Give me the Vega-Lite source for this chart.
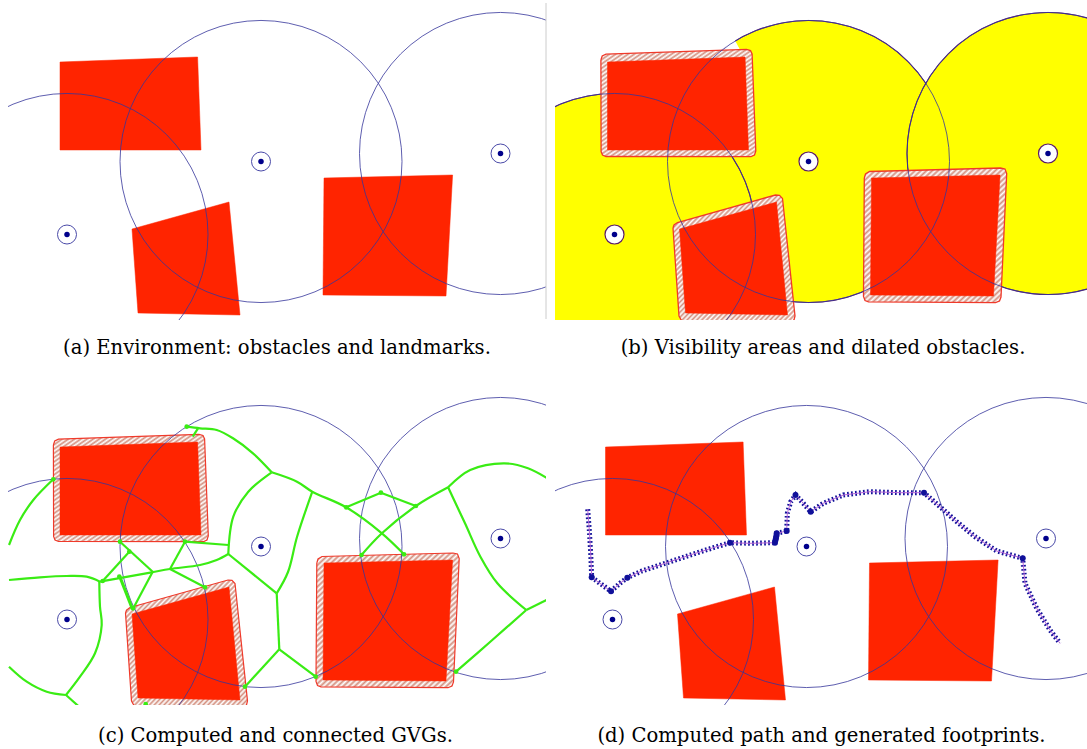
{"$schema":"https://vega.github.io/schema/vega-lite/v6.json","padding":{"left":8,"top":0,"right":0,"bottom":0},"background":"white",
"config":{"view":{"stroke":null},"style":{"cap":{"font":"DejaVu Serif","fontSize":19.6,"fill":"#333333","align":"center","baseline":"middle"},"hatch":{"fill":{"gradient":"linear","x1":0,"y1":0,"x2":1,"y2":1,"stops":[{"offset":0,"color":"#fff"},{"offset":0.01,"color":"#d4907f"},{"offset":0.02,"color":"#fff"},{"offset":0.03,"color":"#d4907f"},{"offset":0.04,"color":"#fff"},{"offset":0.05,"color":"#d4907f"},{"offset":0.06,"color":"#fff"},{"offset":0.07,"color":"#d4907f"},{"offset":0.08,"color":"#fff"},{"offset":0.09,"color":"#d4907f"},{"offset":0.1,"color":"#fff"},{"offset":0.11,"color":"#d4907f"},{"offset":0.12,"color":"#fff"},{"offset":0.13,"color":"#d4907f"},{"offset":0.14,"color":"#fff"},{"offset":0.15,"color":"#d4907f"},{"offset":0.16,"color":"#fff"},{"offset":0.17,"color":"#d4907f"},{"offset":0.18,"color":"#fff"},{"offset":0.19,"color":"#d4907f"},{"offset":0.2,"color":"#fff"},{"offset":0.21,"color":"#d4907f"},{"offset":0.22,"color":"#fff"},{"offset":0.23,"color":"#d4907f"},{"offset":0.24,"color":"#fff"},{"offset":0.25,"color":"#d4907f"},{"offset":0.26,"color":"#fff"},{"offset":0.27,"color":"#d4907f"},{"offset":0.28,"color":"#fff"},{"offset":0.29,"color":"#d4907f"},{"offset":0.3,"color":"#fff"},{"offset":0.31,"color":"#d4907f"},{"offset":0.32,"color":"#fff"},{"offset":0.33,"color":"#d4907f"},{"offset":0.34,"color":"#fff"},{"offset":0.35,"color":"#d4907f"},{"offset":0.36,"color":"#fff"},{"offset":0.37,"color":"#d4907f"},{"offset":0.38,"color":"#fff"},{"offset":0.39,"color":"#d4907f"},{"offset":0.4,"color":"#fff"},{"offset":0.41,"color":"#d4907f"},{"offset":0.42,"color":"#fff"},{"offset":0.43,"color":"#d4907f"},{"offset":0.44,"color":"#fff"},{"offset":0.45,"color":"#d4907f"},{"offset":0.46,"color":"#fff"},{"offset":0.47,"color":"#d4907f"},{"offset":0.48,"color":"#fff"},{"offset":0.49,"color":"#d4907f"},{"offset":0.5,"color":"#fff"},{"offset":0.51,"color":"#d4907f"},{"offset":0.52,"color":"#fff"},{"offset":0.53,"color":"#d4907f"},{"offset":0.54,"color":"#fff"},{"offset":0.55,"color":"#d4907f"},{"offset":0.56,"color":"#fff"},{"offset":0.57,"color":"#d4907f"},{"offset":0.58,"color":"#fff"},{"offset":0.59,"color":"#d4907f"},{"offset":0.6,"color":"#fff"},{"offset":0.61,"color":"#d4907f"},{"offset":0.62,"color":"#fff"},{"offset":0.63,"color":"#d4907f"},{"offset":0.64,"color":"#fff"},{"offset":0.65,"color":"#d4907f"},{"offset":0.66,"color":"#fff"},{"offset":0.67,"color":"#d4907f"},{"offset":0.68,"color":"#fff"},{"offset":0.69,"color":"#d4907f"},{"offset":0.7,"color":"#fff"},{"offset":0.71,"color":"#d4907f"},{"offset":0.72,"color":"#fff"},{"offset":0.73,"color":"#d4907f"},{"offset":0.74,"color":"#fff"},{"offset":0.75,"color":"#d4907f"},{"offset":0.76,"color":"#fff"},{"offset":0.77,"color":"#d4907f"},{"offset":0.78,"color":"#fff"},{"offset":0.79,"color":"#d4907f"},{"offset":0.8,"color":"#fff"},{"offset":0.81,"color":"#d4907f"},{"offset":0.82,"color":"#fff"},{"offset":0.83,"color":"#d4907f"},{"offset":0.84,"color":"#fff"},{"offset":0.85,"color":"#d4907f"},{"offset":0.86,"color":"#fff"},{"offset":0.87,"color":"#d4907f"},{"offset":0.88,"color":"#fff"},{"offset":0.89,"color":"#d4907f"},{"offset":0.9,"color":"#fff"},{"offset":0.91,"color":"#d4907f"},{"offset":0.92,"color":"#fff"},{"offset":0.93,"color":"#d4907f"},{"offset":0.94,"color":"#fff"},{"offset":0.95,"color":"#d4907f"},{"offset":0.96,"color":"#fff"},{"offset":0.97,"color":"#d4907f"},{"offset":0.98,"color":"#fff"},{"offset":0.99,"color":"#d4907f"},{"offset":1,"color":"#fff"}]}}}},
"datasets":{
"obst":[{"id":"A1","i":0,"x":60,"y":62},{"id":"A1","i":1,"x":197.6,"y":57},{"id":"A1","i":2,"x":201,"y":150},{"id":"A1","i":3,"x":60,"y":150},{"id":"A1","i":4,"x":60,"y":62},
{"id":"A2","i":0,"x":132,"y":229},{"id":"A2","i":1,"x":229,"y":202},{"id":"A2","i":2,"x":240,"y":315},{"id":"A2","i":3,"x":138,"y":313},{"id":"A2","i":4,"x":132,"y":229},
{"id":"A3","i":0,"x":324,"y":178},{"id":"A3","i":1,"x":452.6,"y":175},{"id":"A3","i":2,"x":446,"y":296},{"id":"A3","i":3,"x":323,"y":295},{"id":"A3","i":4,"x":324,"y":178}],
"dil":[{"id":"D1","i":0,"x":53.4,"y":60},{"id":"D1","i":1,"x":54.7,"y":56},{"id":"D1","i":2,"x":58.5,"y":54.2},{"id":"D1","i":3,"x":199,"y":49.4},{"id":"D1","i":4,"x":203,"y":50.5},{"id":"D1","i":5,"x":204.6,"y":54},{"id":"D1","i":6,"x":208.3,"y":151},{"id":"D1","i":7,"x":207,"y":155},{"id":"D1","i":8,"x":203.5,"y":156.7},{"id":"D1","i":9,"x":58.5,"y":156.5},{"id":"D1","i":10,"x":55,"y":155},{"id":"D1","i":11,"x":53.6,"y":151.5},{"id":"D1","i":12,"x":53.4,"y":60},
{"id":"D2","i":0,"x":125.5,"y":228},{"id":"D2","i":1,"x":126.5,"y":225},{"id":"D2","i":2,"x":130,"y":222.5},{"id":"D2","i":3,"x":228,"y":195},{"id":"D2","i":4,"x":232,"y":195.3},{"id":"D2","i":5,"x":235,"y":198.5},{"id":"D2","i":6,"x":247.5,"y":316},{"id":"D2","i":7,"x":246.5,"y":320},{"id":"D2","i":8,"x":243,"y":322},{"id":"D2","i":9,"x":139,"y":322},{"id":"D2","i":10,"x":134,"y":320.5},{"id":"D2","i":11,"x":131.5,"y":316},{"id":"D2","i":12,"x":125.5,"y":228},
{"id":"D3","i":0,"x":316.8,"y":178},{"id":"D3","i":1,"x":318,"y":174},{"id":"D3","i":2,"x":322,"y":171.5},{"id":"D3","i":3,"x":453,"y":168},{"id":"D3","i":4,"x":457.5,"y":169},{"id":"D3","i":5,"x":459.2,"y":173.5},{"id":"D3","i":6,"x":453.5,"y":297},{"id":"D3","i":7,"x":452,"y":301},{"id":"D3","i":8,"x":448,"y":302.7},{"id":"D3","i":9,"x":321,"y":301.8},{"id":"D3","i":10,"x":317.5,"y":300.5},{"id":"D3","i":11,"x":316,"y":296.5},{"id":"D3","i":12,"x":316.8,"y":178}],
"lm":[{"x":261,"y":161.5},{"x":500.5,"y":153.5},{"x":67,"y":234.5}],
"shadow":[{"id":"W","i":0,"x":193,"y":52},{"id":"W","i":1,"x":186.6,"y":40},{"id":"W","i":2,"x":180,"y":45.6},{"id":"W","i":3,"x":170,"y":54},{"id":"W","i":4,"x":193,"y":52}],
"frame":[{"id":"r","i":0,"x":546,"y":3},{"id":"r","i":1,"x":546,"y":319}],
"green":[{"id":"g1","i":0,"x":9,"y":160},{"id":"g1","i":1,"x":20,"y":135},{"id":"g1","i":2,"x":33.3,"y":115},{"id":"g1","i":3,"x":53.3,"y":94.3},
{"id":"g2","i":0,"x":186.7,"y":41.7},{"id":"g2","i":1,"x":200,"y":43.3},{"id":"g2","i":2,"x":216.7,"y":45},{"id":"g2","i":3,"x":233,"y":53.3},{"id":"g2","i":4,"x":253,"y":68.3},{"id":"g2","i":5,"x":271.7,"y":87.3},
{"id":"g2b","i":0,"x":198,"y":43.3},{"id":"g2b","i":1,"x":192.7,"y":51.7},
{"id":"g3","i":0,"x":271.7,"y":87.3},{"id":"g3","i":1,"x":297,"y":96.7},{"id":"g3","i":2,"x":312.3,"y":106.7},{"id":"g3","i":3,"x":346.2,"y":122.3},{"id":"g3","i":4,"x":381.9,"y":148.3},{"id":"g3","i":5,"x":404,"y":169.3},
{"id":"g4","i":0,"x":276.7,"y":208.3},{"id":"g4","i":1,"x":288,"y":187},{"id":"g4","i":2,"x":297,"y":152},{"id":"g4","i":3,"x":312.3,"y":106.7},
{"id":"g5","i":0,"x":271.7,"y":87.3},{"id":"g5","i":1,"x":248.3,"y":106.7},{"id":"g5","i":2,"x":233.3,"y":131.7},{"id":"g5","i":3,"x":228.3,"y":169},
{"id":"g6","i":0,"x":228.3,"y":169},{"id":"g6","i":1,"x":276.7,"y":208.3},
{"id":"g7","i":0,"x":276.7,"y":208.3},{"id":"g7","i":1,"x":279.3,"y":264.3},
{"id":"g8","i":0,"x":279.3,"y":264.3},{"id":"g8","i":1,"x":245,"y":301.7},
{"id":"g9","i":0,"x":279.3,"y":264.3},{"id":"g9","i":1,"x":315.7,"y":291.7},
{"id":"g10","i":0,"x":185,"y":156.7},{"id":"g10","i":1,"x":228.3,"y":160},
{"id":"g11","i":0,"x":9,"y":195},{"id":"g11","i":1,"x":40,"y":192.3},{"id":"g11","i":2,"x":66.7,"y":191},{"id":"g11","i":3,"x":86.7,"y":191.7},{"id":"g11","i":4,"x":100,"y":196.7},
{"id":"g11b","i":0,"x":100,"y":196.7},{"id":"g11b","i":1,"x":151.7,"y":187.3},{"id":"g11b","i":2,"x":170,"y":184},{"id":"g11b","i":3,"x":200,"y":180},{"id":"g11b","i":4,"x":216.7,"y":175},{"id":"g11b","i":5,"x":228.3,"y":169},
{"id":"g12","i":0,"x":99.3,"y":196.7},{"id":"g12","i":1,"x":100,"y":221.7},{"id":"g12","i":2,"x":101.7,"y":240},{"id":"g12","i":3,"x":95,"y":268.3},{"id":"g12","i":4,"x":80,"y":291.7},{"id":"g12","i":5,"x":66,"y":310},
{"id":"g13","i":0,"x":9,"y":281.7},{"id":"g13","i":1,"x":26.7,"y":296.7},{"id":"g13","i":2,"x":46.7,"y":306.7},{"id":"g13","i":3,"x":66,"y":310},
{"id":"g13b","i":0,"x":66,"y":310},{"id":"g13b","i":1,"x":78.3,"y":321},
{"id":"g14","i":0,"x":120,"y":156.7},{"id":"g14","i":1,"x":152.7,"y":186.7},
{"id":"g15","i":0,"x":129.3,"y":166.7},{"id":"g15","i":1,"x":102.7,"y":196},
{"id":"g16","i":0,"x":185,"y":156.7},{"id":"g16","i":1,"x":170,"y":184},
{"id":"g17","i":0,"x":170,"y":184},{"id":"g17","i":1,"x":205,"y":202.3},
{"id":"g18","i":0,"x":152.7,"y":186.7},{"id":"g18","i":1,"x":133.3,"y":223.3},
{"id":"g19","i":0,"x":119.3,"y":191.7},{"id":"g19","i":1,"x":131.7,"y":223.3},
{"id":"g19b","i":0,"x":120.3,"y":191.7},{"id":"g19b","i":1,"x":132.7,"y":223.3},
{"id":"g21","i":0,"x":361.5,"y":170},{"id":"g21","i":1,"x":381.9,"y":148.3},{"id":"g21","i":2,"x":415.9,"y":121},{"id":"g21","i":3,"x":448.1,"y":102.3},
{"id":"g22","i":0,"x":346.2,"y":122.3},{"id":"g22","i":1,"x":380.9,"y":107.7},
{"id":"g22b","i":0,"x":380.9,"y":107.7},{"id":"g22b","i":1,"x":415.9,"y":121},
{"id":"g23","i":0,"x":448.1,"y":102.3},{"id":"g23","i":1,"x":470.2,"y":85},{"id":"g23","i":2,"x":504.2,"y":78.3},{"id":"g23","i":3,"x":528,"y":83.3},{"id":"g23","i":4,"x":550,"y":95},
{"id":"g24","i":0,"x":448.1,"y":102.3},{"id":"g24","i":1,"x":465,"y":138.3},{"id":"g24","i":2,"x":480.4,"y":171.7},{"id":"g24","i":3,"x":497.4,"y":198.3},{"id":"g24","i":4,"x":526.3,"y":225},
{"id":"g25","i":0,"x":526.3,"y":225},{"id":"g25","i":1,"x":550,"y":213.3},
{"id":"g26","i":0,"x":526.3,"y":225},{"id":"g26","i":1,"x":492.3,"y":255},{"id":"g26","i":2,"x":456,"y":286.7}],
"nodes":[{"x":186.7,"y":41.7},{"x":53.3,"y":94.3},{"x":120,"y":156.7},{"x":185,"y":156.7},{"x":129.3,"y":166.7},{"x":102.7,"y":196},{"x":119.3,"y":191.7},{"x":133,"y":223.3},{"x":205,"y":202.3},{"x":245,"y":301.7},{"x":315.7,"y":291.7},{"x":361.5,"y":170},{"x":404,"y":169.3},{"x":346.2,"y":122.3},{"x":380.9,"y":107.7},{"x":415.9,"y":121},{"x":456,"y":286.7},{"x":145.7,"y":319}],
"path":[{"i":0,"x":42.2,"y":124.3},{"i":1,"x":43.8,"y":145},{"i":2,"x":45.2,"y":168.3},{"i":3,"x":46.2,"y":192.3},{"i":4,"x":54.5,"y":198.3},{"i":5,"x":65.5,"y":206.3},{"i":6,"x":74.5,"y":198.3},{"i":7,"x":81.8,"y":192.7},{"i":8,"x":96.2,"y":186},{"i":9,"x":119.5,"y":178.3},{"i":10,"x":147.8,"y":169},{"i":11,"x":167.8,"y":162.7},{"i":12,"x":184.5,"y":157.7},{"i":13,"x":204.5,"y":158.3},{"i":14,"x":229.5,"y":157.7},{"i":15,"x":231.2,"y":148.3},{"i":16,"x":241.2,"y":146},{"i":17,"x":241.8,"y":128.3},{"i":18,"x":245.2,"y":116.7},{"i":19,"x":250.2,"y":110},{"i":20,"x":257.8,"y":118.3},{"i":21,"x":265.2,"y":126.7},{"i":22,"x":277.8,"y":118.3},{"i":23,"x":297.8,"y":110},{"i":24,"x":324.5,"y":106.7},{"i":25,"x":354.5,"y":107.7},{"i":26,"x":378.5,"y":107.7},{"i":27,"x":394.5,"y":121.7},{"i":28,"x":411.2,"y":136.7},{"i":29,"x":429.5,"y":151.7},{"i":30,"x":451.2,"y":166},{"i":31,"x":477.2,"y":173.3},{"i":32,"x":479.5,"y":198.3},{"i":33,"x":491.2,"y":223.3},{"i":34,"x":504.5,"y":245},{"i":35,"x":514.5,"y":258.3}],
"blobs":[{"x":46.2,"y":192.3},{"x":65.5,"y":206.3},{"x":81.8,"y":192.7},{"x":184.5,"y":157.7},{"x":229.5,"y":157.7},{"x":230,"y":155},{"x":230.5,"y":153},{"x":231,"y":150.5},{"x":231.2,"y":148.3},{"x":241.2,"y":146},{"x":250,"y":110},{"x":265.2,"y":126.7},{"x":378.5,"y":107.7},{"x":477.2,"y":173.3}]
},
"vconcat":[{"hconcat":[
{"width":538,"height":320,"data":{"name":"obst"},
"encoding":{"x":{"field":"x","type":"quantitative","axis":null,"scale":{"domain":[8,546],"nice":false,"zero":false}},"y":{"field":"y","type":"quantitative","axis":null,"scale":{"domain":[0,320],"reverse":true,"nice":false,"zero":false}}},
"layer":[
{"mark":{"type":"line","fill":"#ff2400","stroke":"#ff2400","strokeWidth":0.5,"clip":true},"encoding":{"detail":{"field":"id"},"order":{"field":"i","type":"quantitative"}}},
{"data":{"name":"lm"},"mark":{"type":"point","shape":"circle","size":79524,"filled":false,"opacity":1,"stroke":"#35359a","strokeWidth":0.8,"clip":true}},
{"data":{"name":"lm"},"mark":{"type":"point","shape":"circle","size":361,"filled":false,"opacity":1,"stroke":"#4a4aa8","strokeWidth":1}},
{"data":{"name":"lm"},"mark":{"type":"circle","size":30,"opacity":1,"color":"#00008b"}},
{"data":{"name":"frame"},"mark":{"type":"line","stroke":"#cccccc","strokeWidth":1},"encoding":{"order":{"field":"i","type":"quantitative"}}},
{"data":{"values":[{"x":277,"y":348,"t":"(a) Environment: obstacles and landmarks."}]},"mark":{"type":"text","style":"cap"},"encoding":{"text":{"field":"t"}}}
]},
{"width":532,"height":320,"data":{"name":"lm"},
"encoding":{"x":{"field":"x","type":"quantitative","axis":null,"scale":{"domain":[7.5,539.5],"nice":false,"zero":false}},"y":{"field":"y","type":"quantitative","axis":null,"scale":{"domain":[0,320],"reverse":true,"nice":false,"zero":false}}},
"layer":[
{"mark":{"type":"circle","size":79524,"opacity":1,"color":"#ffff00","stroke":"#5a1a6a","strokeWidth":1.1,"clip":true}},
{"data":{"name":"shadow"},"mark":{"type":"line","fill":"white","stroke":"white","strokeWidth":1.2,"clip":true},"encoding":{"order":{"field":"i","type":"quantitative"}}},
{"data":{"name":"dil"},"mark":{"type":"line","style":"hatch","stroke":"#f0392a","strokeWidth":1.3,"clip":true},"encoding":{"detail":{"field":"id"},"order":{"field":"i","type":"quantitative"}}},
{"data":{"name":"obst"},"mark":{"type":"line","fill":"#ff2400","stroke":"#ff2400","strokeWidth":0.5,"clip":true},"encoding":{"detail":{"field":"id"},"order":{"field":"i","type":"quantitative"}}},
{"mark":{"type":"point","shape":"circle","size":79524,"filled":false,"opacity":1,"stroke":"#35359a","strokeWidth":0.8,"clip":true}},
{"mark":{"type":"circle","size":361,"opacity":1,"color":"white","stroke":"#5a1a6a","strokeWidth":1.2}},
{"mark":{"type":"circle","size":30,"opacity":1,"color":"#00008b"}},
{"data":{"values":[{"x":275.5,"y":348,"t":"(b) Visibility areas and dilated obstacles."}]},"mark":{"type":"text","style":"cap"},"encoding":{"text":{"field":"t"}}}
]}
],"spacing":9,"bounds":"flush"},
{"hconcat":[
{"width":538,"height":320,"data":{"name":"dil"},
"encoding":{"x":{"field":"x","type":"quantitative","axis":null,"scale":{"domain":[8,546],"nice":false,"zero":false}},"y":{"field":"y","type":"quantitative","axis":null,"scale":{"domain":[0,320],"reverse":true,"nice":false,"zero":false}}},
"layer":[
{"mark":{"type":"line","style":"hatch","stroke":"#f0392a","strokeWidth":1.2,"clip":true},"encoding":{"detail":{"field":"id"},"order":{"field":"i","type":"quantitative"}}},
{"data":{"name":"obst"},"mark":{"type":"line","fill":"#ff2400","stroke":"#ff2400","strokeWidth":0.5,"clip":true},"encoding":{"detail":{"field":"id"},"order":{"field":"i","type":"quantitative"}}},
{"data":{"name":"lm"},"mark":{"type":"point","shape":"circle","size":79524,"filled":false,"opacity":1,"stroke":"#35359a","strokeWidth":0.8,"clip":true}},
{"data":{"name":"lm"},"mark":{"type":"point","shape":"circle","size":361,"filled":false,"opacity":1,"stroke":"#4a4aa8","strokeWidth":1}},
{"data":{"name":"lm"},"mark":{"type":"circle","size":30,"opacity":1,"color":"#00008b"}},
{"data":{"name":"green"},"mark":{"type":"line","stroke":"#3aec14","strokeWidth":2.2,"interpolate":"catmull-rom","clip":true},"encoding":{"detail":{"field":"id"},"order":{"field":"i","type":"quantitative"}}},
{"data":{"name":"nodes"},"mark":{"type":"circle","size":22,"opacity":1,"color":"#3aec14","clip":true}},
{"data":{"values":[{"x":275.5,"y":351,"t":"(c) Computed and connected GVGs."}]},"mark":{"type":"text","style":"cap"},"encoding":{"text":{"field":"t"}}}
]},
{"width":532,"height":320,"data":{"name":"obst"},
"encoding":{"x":{"field":"x","type":"quantitative","axis":null,"scale":{"domain":[9.5,541.5],"nice":false,"zero":false}},"y":{"field":"y","type":"quantitative","axis":null,"scale":{"domain":[0,320],"reverse":true,"nice":false,"zero":false}}},
"layer":[
{"mark":{"type":"line","fill":"#ff2400","stroke":"#ff2400","strokeWidth":0.5,"clip":true},"encoding":{"detail":{"field":"id"},"order":{"field":"i","type":"quantitative"}}},
{"data":{"name":"lm"},"mark":{"type":"point","shape":"circle","size":79524,"filled":false,"opacity":1,"stroke":"#35359a","strokeWidth":0.8,"clip":true}},
{"data":{"name":"lm"},"mark":{"type":"point","shape":"circle","size":361,"filled":false,"opacity":1,"stroke":"#4a4aa8","strokeWidth":1}},
{"data":{"name":"lm"},"mark":{"type":"circle","size":30,"opacity":1,"color":"#00008b"}},
{"data":{"name":"path"},"mark":{"type":"line","stroke":"#12129a","strokeWidth":5,"strokeDash":[1.7,2.3]},"encoding":{"order":{"field":"i","type":"quantitative"}}},
{"data":{"name":"path"},"mark":{"type":"line","stroke":"#b868d8","strokeWidth":1},"encoding":{"order":{"field":"i","type":"quantitative"}}},
{"data":{"name":"blobs"},"mark":{"type":"circle","size":36,"opacity":1,"color":"#10109a"}},
{"data":{"values":[{"x":276,"y":351,"t":"(d) Computed path and generated footprints."}]},"mark":{"type":"text","style":"cap"},"encoding":{"text":{"field":"t"}}}
]}
],"spacing":9,"bounds":"flush"}
],"spacing":385,"bounds":"flush"}
